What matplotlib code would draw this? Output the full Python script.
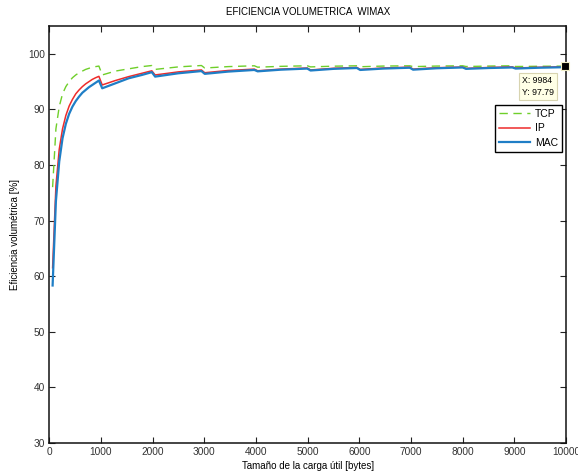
import numpy as np
import matplotlib.pyplot as plt

plt.rcParams['font.family'] = ['Liberation Sans', 'DejaVu Sans']

# payload sizes [bytes]
carga = [64, 128, 192, 256, 320, 384, 448, 512, 576, 640, 704, 768, 832, 896, 960,
         1024, 1280, 1536, 1792, 1984,
         2048, 2496, 2944,
         3008, 3456, 3968,
         4032, 4480, 4992,
         5056, 5504, 5952,
         6016, 6464, 6976,
         7040, 7488, 8000,
         8064, 8512, 8960,
         9024, 9472, 9984]

ef_tcp = [76.0, 86.5, 90.5, 92.8, 94.1, 95.0, 95.7, 96.2, 96.6, 96.9, 97.2, 97.4, 97.6, 97.7, 97.8,
          96.2, 96.9, 97.3, 97.7, 97.9,
          97.2, 97.65, 97.9,
          97.45, 97.7, 97.85,
          97.6, 97.75, 97.85,
          97.65, 97.78, 97.85,
          97.68, 97.8, 97.85,
          97.7, 97.8, 97.85,
          97.72, 97.8, 97.85,
          97.72, 97.76, 97.79]

ef_ip = [61.5, 76.2, 82.8, 86.5, 88.9, 90.6, 91.8, 92.8, 93.5, 94.1, 94.6, 95.0, 95.4, 95.7, 95.95,
         94.4, 95.2, 95.9, 96.5, 96.95,
         96.2, 96.75, 97.1,
         96.6, 97.0, 97.25,
         96.95, 97.25, 97.45,
         97.1, 97.4, 97.55,
         97.2, 97.45, 97.6,
         97.25, 97.5, 97.62,
         97.38, 97.55, 97.65,
         97.45, 97.58, 97.68]

ef_mac = [58.3, 73.5, 80.6, 84.8, 87.4, 89.2, 90.5, 91.5, 92.3, 93.0, 93.5, 94.0, 94.4, 94.8, 95.2,
          93.8, 94.7, 95.6, 96.2, 96.7,
          95.9, 96.5, 96.9,
          96.4, 96.8, 97.1,
          96.85, 97.15, 97.35,
          97.0, 97.3, 97.45,
          97.1, 97.35, 97.5,
          97.15, 97.4, 97.55,
          97.3, 97.45, 97.55,
          97.35, 97.5, 97.6]

fig = plt.figure(figsize=(5.78, 4.74), dpi=100)
ax = fig.add_axes([0.0853, 0.066, 0.894, 0.879])

ax.plot(carga, ef_tcp, '--', color='#6fcf2a', lw=1.0, dashes=(6, 4), label='TCP')
ax.plot(carga, ef_ip, '-', color='#ee2b2b', lw=1.1, label='IP')
ax.plot(carga, ef_mac, '-', color='#1f7ec6', lw=1.6, label='MAC')

ax.set_xlim(0, 10000)
ax.set_ylim(30, 105)
ax.set_xticks(np.arange(0, 10001, 1000))
ax.set_yticks(np.arange(30, 101, 10))
ax.tick_params(direction='in', length=4, width=0.8, labelsize=7.3, top=True, right=True,
               colors='#222222', labelcolor='#333333', pad=3.2)
for s in ax.spines.values():
    s.set_linewidth(1.1)
    s.set_color('#111111')

ax.set_title('EFICIENCIA VOLUMETRICA  WIMAX', fontsize=7, pad=8)
ax.set_xlabel('Tamaño de la carga útil [bytes]', fontsize=7, labelpad=2.5)
ax.set_ylabel('Eficiencia volumétrica [%]', fontsize=7, labelpad=6)

leg = ax.legend(loc='upper right', bbox_to_anchor=(0.9917, 0.8104), borderaxespad=0,
                fontsize=7.5, handlelength=3.0, handletextpad=0.5, labelspacing=0.45,
                fancybox=False, framealpha=1, edgecolor='black', borderpad=0.35)
leg.get_frame().set_linewidth(1.0)

# data cursor on the last TCP point
xt, yt = carga[-1], ef_tcp[-1]
ax.plot([xt], [yt], 's', color='black', ms=5.5, mec='#f3f0c8', mew=0.8, clip_on=False, zorder=5)
ax.annotate('X: %d\nY: %.2f' % (xt, yt), xy=(xt, yt), xytext=(-31, -7),
            textcoords='offset points', ha='left', va='top', fontsize=6.3, linespacing=1.5,
            bbox=dict(boxstyle='square,pad=0.35', fc='#ffffe6', ec='#d8d4b0', lw=0.8))

fig.savefig('out.png', dpi=100)
